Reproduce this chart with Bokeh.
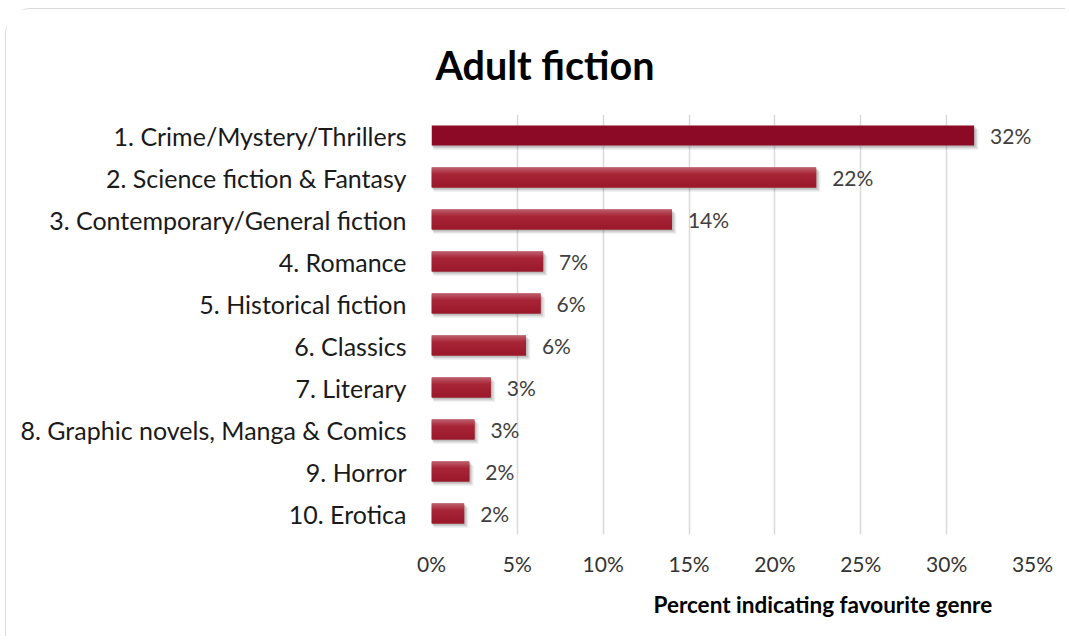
from bokeh.plotting import figure
from bokeh.models import ColumnDataSource, LabelSet, Title, FixedTicker, Range1d
from bokeh.core.properties import value
from bokeh.embed import file_html
from bokeh.resources import INLINE

genres = ["1. Crime/Mystery/Thrillers", "2. Science fiction & Fantasy",
          "3. Contemporary/General fiction", "4. Romance", "5. Historical fiction",
          "6. Classics", "7. Literary", "8. Graphic novels, Manga & Comics",
          "9. Horror", "10. Erotica"]
percents = [31.6, 22.4, 14.0, 6.5, 6.35, 5.5, 3.45, 2.5, 2.2, 1.9]
labels = ["32%", "22%", "14%", "7%", "6%", "6%", "3%", "3%", "2%", "2%"]
x_ticks = [0, 5, 10, 15, 20, 25, 30, 35]

FONT = "Lato"
pos = list(range(1, len(genres) + 1))

W, H = 1060, 628
p = figure(width=W, height=H, output_backend="svg", toolbar_location=None,
           x_range=Range1d(0, 35), y_range=Range1d(10.5, 0.5),
           min_border_left=425, min_border_right=34, min_border_top=105,
           min_border_bottom=103)
p.styles = {"border-top": "1.5px solid #d9d9d9", "border-left": "1.5px solid #d9d9d9",
            "border-top-left-radius": "26px", "margin-left": "5px", "margin-top": "8px"}
p.outline_line_color = None
p.background_fill_color = "white"
p.border_fill_color = "white"

# title
p.title.text = "Adult fiction"
p.title.align = "left"
p.title.offset = 4
p.title.text_font = FONT
p.title.text_font_style = "bold"
p.title.text_font_size = "39.5px"
p.title.text_color = "#000000"
p.title.standoff = 54

# grid
p.ygrid.grid_line_color = None
p.xgrid.grid_line_color = "#d9d9d9"
p.xgrid.grid_line_width = 1.5
p.xgrid.ticker = FixedTicker(ticks=x_ticks)

# shadows
src = ColumnDataSource(dict(y=pos, x=percents, lab=labels))
for dy, dx, a in [(0.10, 0.25, 0.10), (0.07, 0.17, 0.15), (0.04, 0.09, 0.2)]:
    p.hbar(y=[v + dy for v in pos], left=[dx * 0.5] * len(pos),
           right=[v + dx for v in percents], height=0.48,
           fill_color="#555555", fill_alpha=a, line_color=None)

# bars: first solid, rest with vertical gradient
h = 0.48
n = 10
top_c = (0xBA, 0x57, 0x65)
mid_c = (0xA8, 0x26, 0x37)
bot_c = (0x9A, 0x19, 0x2B)
def mix(c1, c2, t):
    return "#%02x%02x%02x" % tuple(int(round(a + (b - a) * t)) for a, b in zip(c1, c2))
p.hbar(y=pos[1:], left=0, right=percents[1:], height=h,
       fill_color=mix(mid_c, bot_c, 0.5), line_color=None)
for i in range(n):
    t = i / (n - 1)
    if t < 0.3:
        col = mix(top_c, mid_c, t / 0.3)
    else:
        col = mix(mid_c, bot_c, (t - 0.3) / 0.7)
    y0 = h * i / n
    y1 = min(h, h * (i + 1.6) / n)
    yy = [v - h / 2 + (y0 + y1) / 2 for v in pos[1:]]
    p.hbar(y=yy, left=0, right=percents[1:], height=(y1 - y0),
           fill_color=col, line_color=None)
p.hbar(y=pos[:1], left=0, right=percents[:1], height=h,
       fill_color="#8c0a26", line_color=None)

# data labels
ls = LabelSet(x="x", y="y", text="lab", source=src, x_offset=16,
              text_baseline="middle", text_font=value(FONT),
              text_font_size="21px", text_color="#404040")
p.add_layout(ls)

# axes
p.xaxis.ticker = FixedTicker(ticks=x_ticks)
p.xaxis.major_label_overrides = {t: f"{t}%" for t in x_ticks}
p.xaxis.axis_line_color = None
p.xaxis.major_tick_line_color = None
p.xaxis.minor_tick_line_color = None
p.xaxis.major_label_standoff = 10
p.xaxis.major_label_text_font = FONT
p.xaxis.major_label_text_font_size = "21px"
p.xaxis.major_label_text_color = "#333333"

p.yaxis.ticker = FixedTicker(ticks=pos)
p.yaxis.major_label_overrides = {i: g for i, g in zip(pos, genres)}
p.yaxis.axis_line_color = None
p.yaxis.major_tick_line_color = None
p.yaxis.minor_tick_line_color = None
p.yaxis.major_label_standoff = 19
p.yaxis.major_label_text_font = FONT
p.yaxis.major_label_text_font_size = "25px"
p.yaxis.major_label_text_color = "#1a1a1a"

xlab = Title(text="Percent indicating favourite genre", align="left", offset=222,
             text_font=FONT, text_font_style="bold", text_font_size="22.5px",
             text_color="#000000", standoff=20)
p.add_layout(xlab, "below")

open("out.html", "w").write(file_html(p, INLINE))
